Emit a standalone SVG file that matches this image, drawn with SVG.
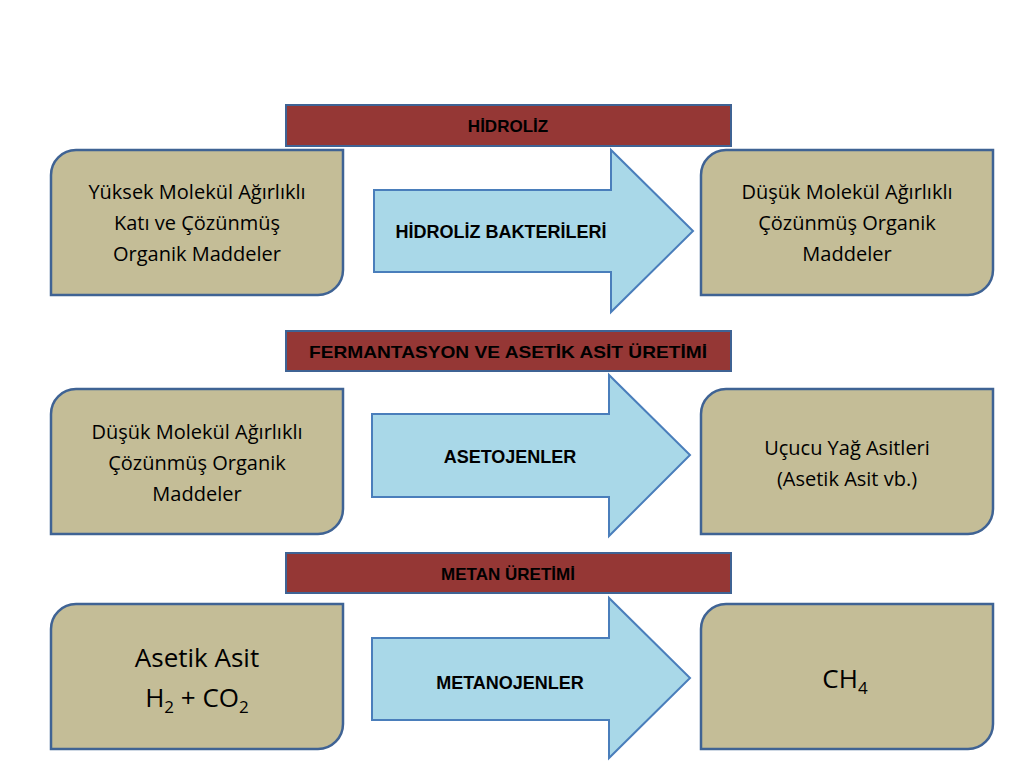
<svg xmlns="http://www.w3.org/2000/svg" width="1024" height="768" viewBox="0 0 1024 768">
<style>
.box{fill:#C4BD97;stroke:#3F6394;stroke-width:2.5}
.ban{fill:#953735;stroke:#3F6394;stroke-width:2}
.arr{fill:#A9D8E8;stroke:#4A7EBB;stroke-width:2}
text{font-family:"Open Sans","Liberation Sans",Arial,sans-serif;fill:#000;text-anchor:middle}
.t{font-size:20px}
.b{font-family:"Liberation Sans",Arial,sans-serif;font-size:18px;font-weight:bold}
.bw{font-family:"Liberation Sans",Arial,sans-serif;font-size:17px;font-weight:bold;fill:#000}
.big{font-size:26px}
</style>
<rect width="1024" height="768" fill="#fff"/>
<g id="connectors">
<path class="arr" d="M374,190H611V150L693,231L611,312V272H374Z"/>
<path class="arr" d="M372,414H609V375L690,455L609,536V497H372Z"/>
<path class="arr" d="M372,638H609V598L690,678L609,758V720H372Z"/>
</g>
<g id="banner1"><rect class="ban" x="286" y="105" width="445" height="41"/><text class="bw" x="508" y="132">HİDROLİZ</text></g>
<g id="banner2"><rect class="ban" x="286" y="331" width="445" height="40"/><text class="bw" x="508" y="358" textLength="398" lengthAdjust="spacingAndGlyphs">FERMANTASYON  VE ASETİK ASİT ÜRETİMİ</text></g>
<g id="banner3"><rect class="ban" x="286" y="553" width="445" height="40"/><text class="bw" x="508" y="580">METAN ÜRETİMİ</text></g>
<g id="n1"><path class="box" d="M76,150H343V270A25,25 0 0 1 318,295H51V175A25,25 0 0 1 76,150Z"/>
<text class="t" x="197" y="199">Yüksek Molekül Ağırlıklı</text><text class="t" x="197" y="230">Katı ve Çözünmüş</text><text class="t" x="197" y="261">Organik Maddeler</text></g>
<g id="a1"><text class="b" x="501" y="238">HİDROLİZ BAKTERİLERİ</text></g>
<g id="n2"><path class="box" d="M726,150H993V270A25,25 0 0 1 968,295H701V175A25,25 0 0 1 726,150Z"/>
<text class="t" x="847" y="199">Düşük Molekül Ağırlıklı</text><text class="t" x="847" y="230">Çözünmüş Organik</text><text class="t" x="847" y="261">Maddeler</text></g>
<g id="n3"><path class="box" d="M76,389H343V509A25,25 0 0 1 318,534H51V414A25,25 0 0 1 76,389Z"/>
<text class="t" x="197" y="439">Düşük Molekül Ağırlıklı</text><text class="t" x="197" y="470">Çözünmüş Organik</text><text class="t" x="197" y="501">Maddeler</text></g>
<g id="a2"><text class="b" x="510" y="463">ASETOJENLER</text></g>
<g id="n4"><path class="box" d="M726,389H993V509A25,25 0 0 1 968,534H701V414A25,25 0 0 1 726,389Z"/>
<text class="t" x="847" y="455">Uçucu Yağ Asitleri</text><text class="t" x="847" y="486">(Asetik Asit vb.)</text></g>
<g id="n5"><path class="box" d="M76,604H343V724A25,25 0 0 1 318,749H51V629A25,25 0 0 1 76,604Z"/>
<text class="big" x="197" y="667">Asetik Asit</text><text class="big" x="197" y="707">H<tspan font-size="17" dy="6">2</tspan><tspan dy="-6"> + CO</tspan><tspan font-size="17" dy="6">2</tspan></text></g>
<g id="a3"><text class="b" x="510" y="689">METANOJENLER</text></g>
<g id="n6"><path class="box" d="M726,604H993V724A25,25 0 0 1 968,749H701V629A25,25 0 0 1 726,604Z"/>
<text class="big" x="845" y="688">CH<tspan font-size="17" dy="6">4</tspan></text></g>
</svg>
